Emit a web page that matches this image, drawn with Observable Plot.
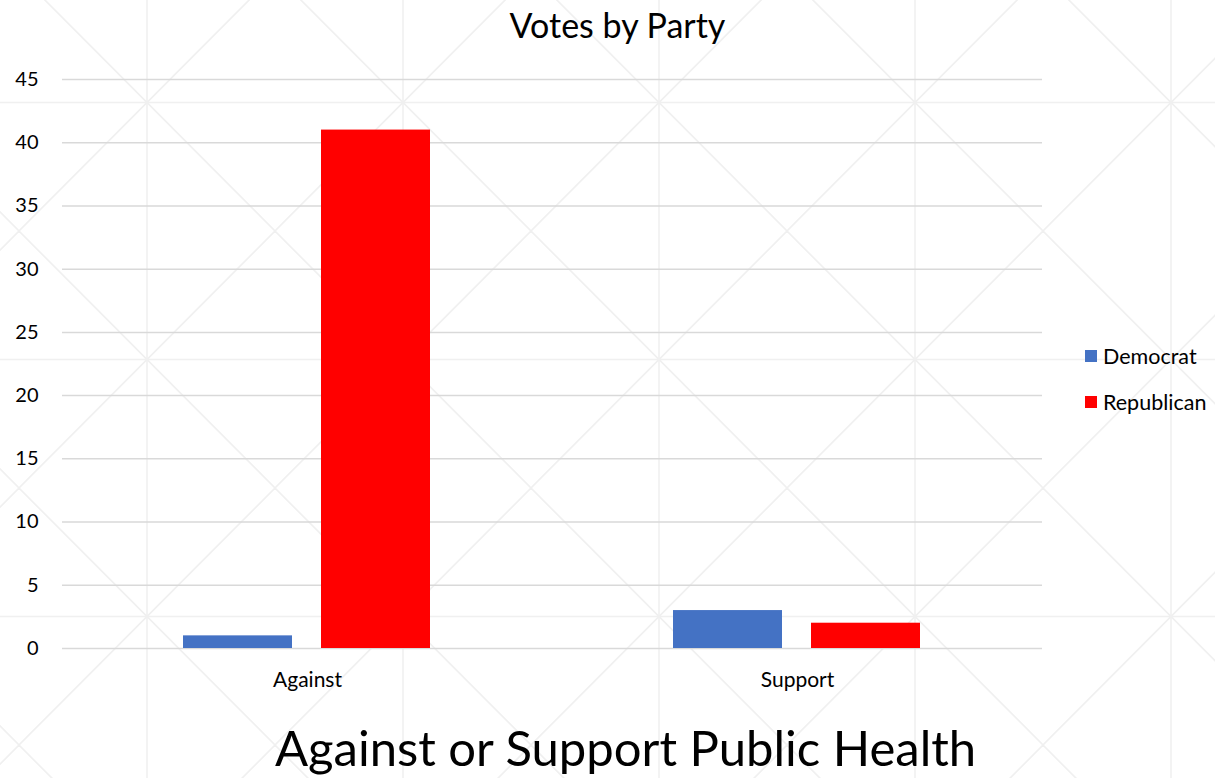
<!DOCTYPE html>
<html>
<head>
<meta charset="utf-8">
<script src="https://cdn.jsdelivr.net/npm/d3@7"></script>
<script src="https://cdn.jsdelivr.net/npm/@observablehq/plot@0.6"></script>
<style>
  html, body { margin: 0; padding: 0; background: #ffffff; }
  #frame {
    position: relative;
    width: 1215px;
    height: 778px;
    overflow: hidden;
    font-family: Lato, "Open Sans", sans-serif;
    color: #000;
    background-color: #ffffff;
    background-image: url("data:image/svg+xml,%3Csvg xmlns='http://www.w3.org/2000/svg' width='256' height='257'%3E%3Cg stroke='%23f0f0f0' stroke-width='1.6' fill='none'%3E%3Cline x1='128' y1='0' x2='128' y2='257'/%3E%3Cline x1='0' y1='128.5' x2='256' y2='128.5'/%3E%3Cline x1='0' y1='0' x2='256' y2='257'/%3E%3Cline x1='256' y1='0' x2='0' y2='257'/%3E%3C/g%3E%3C/svg%3E");
    background-position: 19px -26px;
    background-repeat: repeat;
  }
  #title {
    position: absolute; left: 10px; top: 4px; width: 1215px;
    text-align: center; font-size: 34px; line-height: 42px;
  }
  #chart { position: absolute; left: 0; top: 50px; }
  #xtitle {
    position: absolute; left: 18px; top: 717px; width: 1215px;
    text-align: center; font-size: 49px; line-height: 60px;
  }
  #legend { position: absolute; left: 1085px; top: 343px; font-size: 21.5px; }
  .item { display: flex; align-items: center; height: 26px; margin-bottom: 20px; white-space: nowrap; }
  .swatch { width: 12px; height: 12px; margin-right: 6px; }
</style>
</head>
<body>
<div id="frame">
  <div id="title"></div>
  <div id="chart"></div>
  <div id="legend"></div>
  <div id="xtitle"></div>
</div>
<script>
const chartTitle = "Votes by Party";
const axisTitle = "Against or Support Public Health";
const categories = ["Against", "Support"];
const parties = ["Democrat", "Republican"];
const democratVotes = [1, 3];
const republicanVotes = [41, 2];
const partyColors = ["#4472C4", "#FF0000"];
const yTicks = [0, 5, 10, 15, 20, 25, 30, 35, 40, 45];

const rows = categories.flatMap((c, i) => [
  {category: c, party: parties[0], votes: democratVotes[i]},
  {category: c, party: parties[1], votes: republicanVotes[i]}
]);

document.getElementById("title").textContent = chartTitle;
document.getElementById("xtitle").textContent = axisTitle;

const chart = Plot.plot({
  width: 1215,
  height: 660,
  marginTop: 29,
  marginBottom: 62,
  marginLeft: 62,
  marginRight: 173,
  style: {background: "transparent", fontFamily: "Lato, 'Open Sans', sans-serif", fontSize: "21px", color: "#000"},
  fx: {domain: categories, padding: 0, axis: "bottom", label: null, tickSize: 0, tickPadding: 24},
  x: {domain: parties, axis: null, paddingInner: 0.2086, paddingOuter: 0.867},
  y: {domain: [0, 45], ticks: yTicks, label: null, tickSize: 0, tickPadding: 24},
  color: {domain: parties, range: partyColors},
  marks: [
    Plot.gridY(yTicks, {stroke: "#d9d9d9", strokeOpacity: 1, strokeWidth: 1.5}),
    Plot.barY(rows, {fx: "category", x: "party", y: "votes", fill: "party"}),
    Plot.axisY(yTicks, {tickSize: 0, tickPadding: 24, fontSize: 20, label: null})
  ]
});
document.getElementById("chart").appendChild(chart);

const legend = document.getElementById("legend");
parties.forEach((p, i) => {
  const item = document.createElement("div");
  item.className = "item";
  const sw = document.createElement("div");
  sw.className = "swatch";
  sw.style.background = partyColors[i];
  const label = document.createElement("span");
  label.textContent = p;
  item.appendChild(sw);
  item.appendChild(label);
  legend.appendChild(item);
});
</script>
</body>
</html>
